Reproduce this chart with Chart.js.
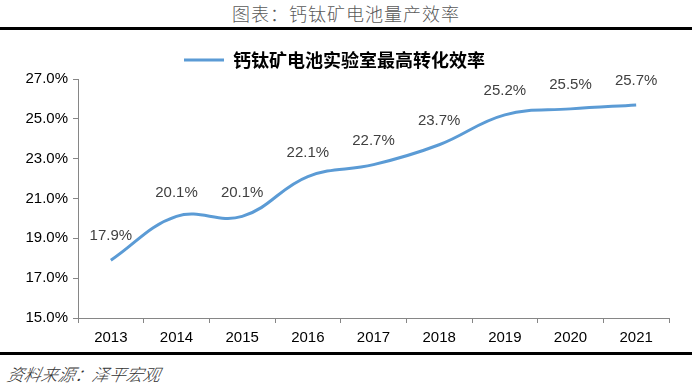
<!DOCTYPE html>
<html><head><meta charset="utf-8">
<script src="https://cdn.jsdelivr.net/npm/chart.js@4"></script>
<style>
html,body{margin:0;padding:0;background:#fff;width:692px;height:385px;overflow:hidden;position:relative;}
#title{position:absolute;top:1px;left:0;width:692px;text-align:center;font:300 18px "Noto Sans CJK SC";color:#595959;line-height:24px;letter-spacing:1px;}
.rule{position:absolute;left:0;width:692px;height:3px;background:#000;}
#wrap{position:absolute;left:0;top:30px;width:692px;height:322px;}
#foot{position:absolute;left:5px;top:362px;font:300 italic 17px "Noto Sans CJK SC";color:#333;line-height:24px;transform:skewX(-12deg);transform-origin:left bottom;}
</style></head>
<body>
<div id="title">图表：钙钛矿电池量产效率</div>
<div class="rule" style="top:27px"></div>
<div id="wrap"><canvas id="c" width="692" height="322"></canvas></div>
<div class="rule" style="top:352px"></div>
<div id="foot">资料来源：泽平宏观</div>
<script>
const years = ['2013','2014','2015','2016','2017','2018','2019','2020','2021'];
const efficiency = [17.9, 20.1, 20.1, 22.1, 22.7, 23.7, 25.2, 25.5, 25.7];
const seriesName = '钙钛矿电池实验室最高转化效率';
const yMin = 15, yMax = 27, yStep = 2;

const labelPlugin = {
  id: 'pointLabels',
  afterDatasetsDraw(chart) {
    const ctx = chart.ctx;
    const meta = chart.getDatasetMeta(0);
    ctx.save();
    ctx.font = '15px "Liberation Sans"';
    ctx.fillStyle = '#404040';
    ctx.textAlign = 'center';
    ctx.textBaseline = 'middle';
    meta.data.forEach((pt, i) => {
      ctx.fillText(efficiency[i].toFixed(1) + '%', pt.x, pt.y - 24);
    });
    ctx.restore();
  }
};

new Chart(document.getElementById('c'), {
  type: 'line',
  data: {
    labels: years,
    datasets: [{
      label: seriesName,
      data: efficiency,
      borderColor: '#5B9BD5',
      backgroundColor: '#5B9BD5',
      borderWidth: 3,
      pointRadius: 0,
      tension: 0.4,
      fill: false
    }]
  },
  options: {
    responsive: false,
    animation: false,
    devicePixelRatio: 1,
    layout: { padding: { left: 0, right: 23, top: 8, bottom: 0 } },
    plugins: {
      legend: {
        display: true,
        position: 'top',
        labels: {
          usePointStyle: true,
          pointStyle: 'line',
          pointStyleWidth: 40,
          color: '#000',
          font: { family: '"Noto Sans CJK SC"', size: 18, weight: 'bold' },
          padding: 13
        }
      },
      tooltip: { enabled: false }
    },
    scales: {
      x: {
        offset: true,
        grid: { display: true, drawOnChartArea: false, offset: true, tickLength: 5, color: '#868686' },
        border: { color: '#868686', width: 1 },
        ticks: { color: '#000', font: { family: '"Liberation Sans"', size: 15 }, padding: 6, maxRotation: 0 },
        afterFit(s) { s.height = 34; }
      },
      y: {
        min: yMin, max: yMax,
        grid: { display: true, drawOnChartArea: false, tickLength: 5, color: '#868686' },
        border: { color: '#868686', width: 1 },
        ticks: { stepSize: yStep, color: '#000', font: { family: '"Liberation Sans"', size: 15 }, padding: 5,
          callback: v => v.toFixed(1) + '%' },
        afterFit(s) { s.width = 78; }
      }
    }
  },
  plugins: [labelPlugin]
});
</script>
</body></html>
